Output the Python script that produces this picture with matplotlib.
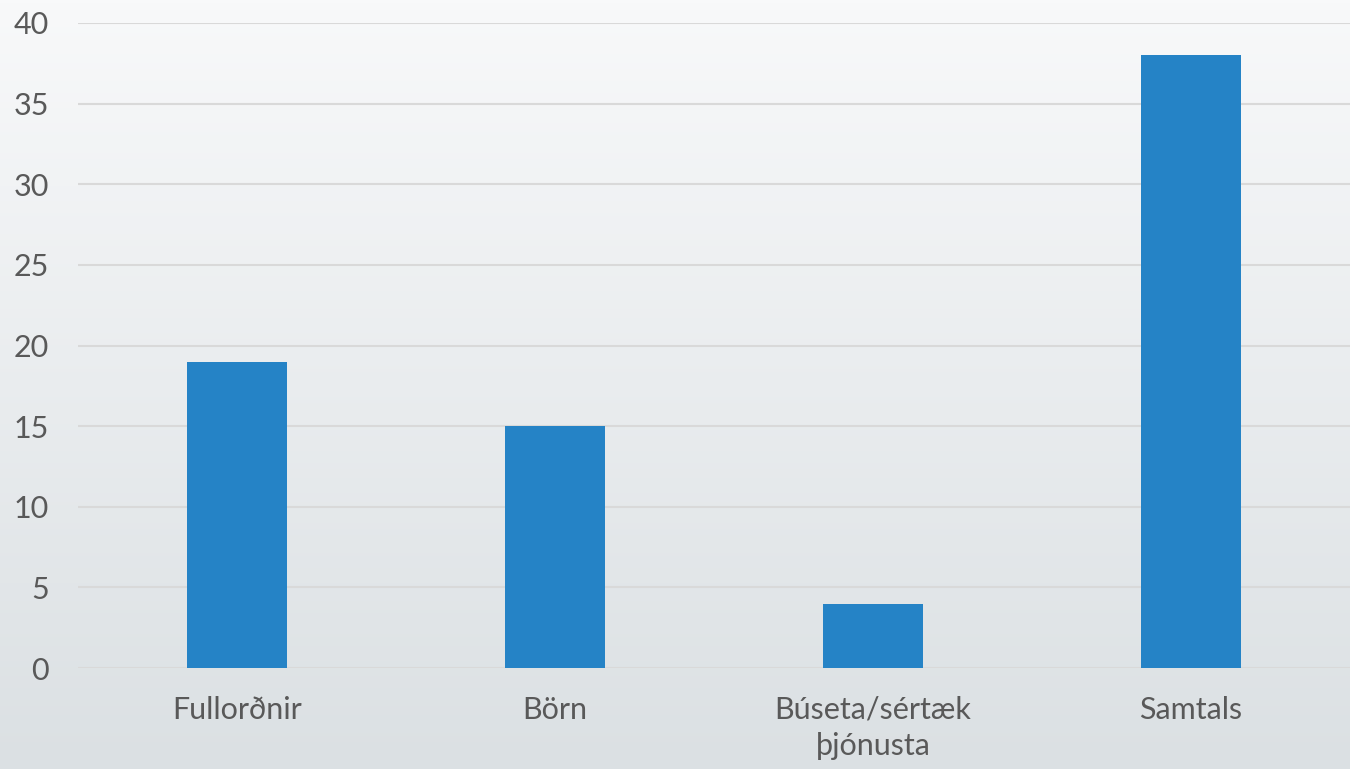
import numpy as np
import matplotlib
matplotlib.use("Agg")
import matplotlib.pyplot as plt
from matplotlib.colors import LinearSegmentedColormap

# data
categories = ["Fullorðnir", "Börn", "Búseta/sértæk\nþjónusta", "Samtals"]
values = [19, 15, 4, 38]
yticks = [0, 5, 10, 15, 20, 25, 30, 35, 40]

plt.rcParams['font.family'] = ['Lato', 'DejaVu Sans']

fig = plt.figure(figsize=(13.5, 7.69), dpi=100)

# background gradient over the whole figure
bg = fig.add_axes([0, 0, 1, 1], zorder=0)
cmap = LinearSegmentedColormap.from_list("bg", ["#f8f9fa", "#dbe0e3"])
grad = np.linspace(0, 1, 256).reshape(-1, 1)
bg.imshow(grad, aspect="auto", cmap=cmap, extent=[0, 1, 0, 1])
bg.axis("off")

ax = fig.add_axes([78/1350, 1 - 668/769, 1 - 78/1350, (668 - 23)/769], zorder=1)
ax.patch.set_alpha(0)

x = np.arange(len(categories))
ax.bar(x, values, width=0.315, color="#2583c6", zorder=3)

ax.set_xlim(-0.5, len(categories) - 0.5)
ax.set_ylim(0, 40)
ax.set_yticks(yticks)
ax.set_xticks(x)
ax.set_xticklabels(categories, linespacing=1.35)
ax.yaxis.grid(True, color="#d9d9d9", linewidth=1.5, zorder=0)
ax.set_axisbelow(True)

for s in ax.spines.values():
    s.set_visible(False)
ax.tick_params(axis="both", length=0, labelsize=22, colors="#595959")
ax.tick_params(axis="y", pad=21)
ax.tick_params(axis="x", pad=20)

fig.savefig("out.png", dpi=100)
